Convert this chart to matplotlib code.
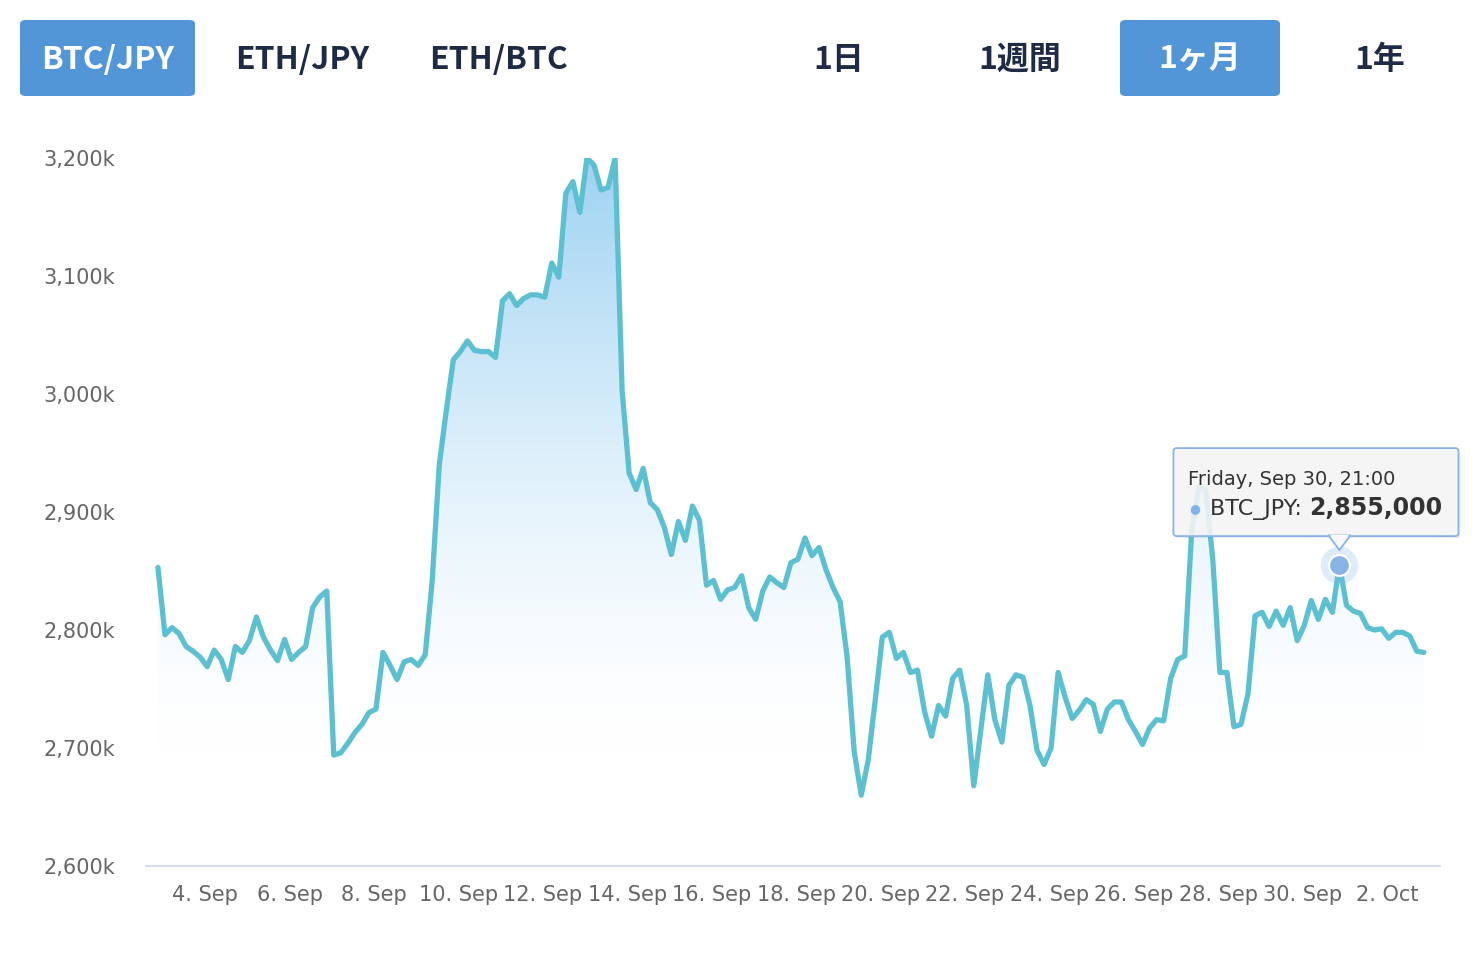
import matplotlib
matplotlib.use("Agg")
import matplotlib.pyplot as plt
import matplotlib.dates as mdates
from matplotlib.patches import FancyBboxPatch, Polygon
from matplotlib.transforms import IdentityTransform
import numpy as np
import pandas as pd

# BTC/JPY, 4-hour steps, in thousands of yen
start_time = "2022-09-02 21:00"
btc_jpy = [
    2853, 2796, 2802, 2797, 2786, 2782, 2777, 2769, 2783, 2775,
    2758, 2786, 2781, 2791, 2811, 2794, 2783, 2774, 2792, 2775,
    2781, 2786, 2819, 2828, 2833, 2694, 2696, 2704, 2713, 2720,
    2730, 2733, 2781, 2770, 2758, 2773, 2775, 2770, 2779, 2842,
    2940, 2986, 3029, 3036, 3045, 3037, 3036, 3036, 3031, 3079,
    3085, 3075, 3081, 3084, 3084, 3082, 3111, 3099, 3170, 3180,
    3154, 3200, 3194, 3173, 3175, 3200, 3003, 2933, 2919, 2937,
    2908, 2902, 2887, 2864, 2892, 2876, 2905, 2893, 2838, 2842,
    2826, 2834, 2836, 2846, 2819, 2809, 2833, 2845, 2840, 2836,
    2857, 2860, 2878, 2863, 2870, 2851, 2836, 2824, 2777, 2697,
    2660, 2690, 2741, 2794, 2798, 2776, 2781, 2764, 2766, 2731,
    2710, 2736, 2727, 2759, 2766, 2736, 2668, 2715, 2762, 2724,
    2705, 2753, 2762, 2760, 2736, 2698, 2686, 2700, 2764, 2743,
    2725, 2732, 2741, 2737, 2714, 2733, 2739, 2739, 2724, 2714,
    2703, 2717, 2724, 2723, 2759, 2775, 2778, 2885, 2921, 2919,
    2859, 2764, 2764, 2718, 2720, 2746, 2812, 2815, 2803, 2816,
    2804, 2819, 2791, 2804, 2825, 2809, 2826, 2815, 2855, 2821,
    2816, 2814, 2802, 2800, 2801, 2793, 2798, 2798, 2795, 2782,
    2781,
]
hover_index = 168
y_ticks = [2600, 2700, 2800, 2900, 3000, 3100, 3200]
pair_buttons = ["BTC/JPY", "ETH/JPY", "ETH/BTC"]
range_buttons = ["1日", "1週間", "1ヶ月", "1年"]

times = pd.date_range(start_time, periods=len(btc_jpy), freq="4h")
tnum = mdates.date2num(times)
vals = np.array(btc_jpy, dtype=float)

W, H = 1480, 956
fig = plt.figure(figsize=(W / 100, H / 100), dpi=100)
ax = fig.add_axes([146 / W, 1 - 866 / H, (1440 - 146) / W, (866 - 158) / H])

step = tnum[1] - tnum[0]
ax.set_xlim(tnum[0] - 1.7 * step, tnum[-1] + 2.3 * step)
ax.set_ylim(y_ticks[0], y_ticks[-1])

# gradient area under the line
line_col = "#5dc0d1"
top_rgb = np.array([158, 210, 242]) / 255
levels = np.linspace(y_ticks[-1], y_ticks[0], 300)
f = np.clip((levels - 2700) / (3200 - 2700), 0, 1) ** 1.5
grad = 1 - f[:, None] * (1 - top_rgb[None, :])
grad = np.repeat(grad[:, None, :], 2, axis=1)
x0, x1 = ax.get_xlim()
img = ax.imshow(grad, extent=[x0, x1, y_ticks[0], y_ticks[-1]], aspect="auto",
                origin="upper", zorder=1)
verts = np.vstack([np.column_stack([tnum, vals]),
                   [[tnum[-1], y_ticks[0]], [tnum[0], y_ticks[0]]]])
clip = Polygon(verts, closed=True, transform=ax.transData, facecolor="none", edgecolor="none")
ax.add_patch(clip)
img.set_clip_path(clip)

ax.plot(tnum, vals, color=line_col, lw=3.8, solid_joinstyle="round",
        solid_capstyle="round", zorder=3)

# hover marker
hx, hy = tnum[hover_index], vals[hover_index]
ax.plot([hx], [hy], "o", ms=27, color="#7cb5ec", alpha=0.25, mec="none", zorder=4)
ax.plot([hx], [hy], "o", ms=15, color="#8ab4e8", mec="white", mew=1.5, zorder=5)

# axes styling
for s in ["top", "right", "left"]:
    ax.spines[s].set_visible(False)
ax.spines["bottom"].set_color("#ccd6eb")
ax.spines["bottom"].set_linewidth(1.2)
ax.set_yticks(y_ticks)
ax.set_yticklabels([f"{v:,}k" for v in y_ticks])
ticks = pd.date_range("2022-09-04", "2022-10-02", freq="2D")
ax.set_xticks(mdates.date2num(ticks))
ax.set_xticklabels([f"{t.day}. {t.strftime('%b')}" for t in ticks])
ax.tick_params(axis="y", length=0, pad=22, labelsize=15, labelcolor="#666666")
ax.tick_params(axis="x", length=0, pad=14, labelsize=15, labelcolor="#666666")

# buttons
jp = ["Noto Sans CJK JP", "DejaVu Sans"]
navy = "#1f2a44"
blue = "#5296d8"
btn_y = 1 - 60 / H
for bx, bw in [(20, 175), (1120, 160)]:
    fig.patches.append(FancyBboxPatch((bx / W, 1 - 96 / H), bw / W, 76 / H,
                                      boxstyle="round,pad=0,rounding_size=0.004",
                                      transform=fig.transFigure, fc=blue, ec="none"))
for lab, cx in zip(pair_buttons, [108, 302, 498]):
    fig.text(cx / W, btn_y, lab, ha="center", va="center", fontsize=23,
             fontweight="bold", family=jp, color="white" if lab == "BTC/JPY" else navy)
for lab, cx in zip(range_buttons, [839, 1020, 1200, 1380]):
    fig.text(cx / W, btn_y, lab, ha="center", va="center", fontsize=23,
             fontweight="bold", family=jp, color="white" if lab == "1ヶ月" else navy)

# tooltip anchored on hovered point
fig.canvas.draw()
px, py = ax.transData.transform((hx, hy))
bx0, bx1 = px - 166, px + 119
by0, by1 = py + 29, py + 117
shadow = FancyBboxPatch((bx0 + 2, by0 - 2), bx1 - bx0, by1 - by0,
                        boxstyle="round,pad=0,rounding_size=3", transform=IdentityTransform(),
                        fc="#000000", alpha=0.07, ec="none", zorder=6)
box = FancyBboxPatch((bx0, by0), bx1 - bx0, by1 - by0,
                     boxstyle="round,pad=0,rounding_size=3", transform=IdentityTransform(),
                     fc=(0.97, 0.97, 0.97, 0.88), ec="#8ab4e8", lw=1.3, zorder=7)
tip = Polygon([[px - 11, by0 + 0.8], [px, py + 15], [px + 11, by0 + 0.8]],
              closed=True, transform=IdentityTransform(), fc="#f7f7f7",
              ec="#8ab4e8", lw=1.3, zorder=7)
fig.artists.extend([shadow, box, tip])
tip_cover = Polygon([[px - 10, by0 + 1.5], [px + 10, by0 + 1.5], [px, by0 - 8]],
                    closed=True, transform=IdentityTransform(), fc="#f7f7f7",
                    ec="none", zorder=8)
fig.artists.append(tip_cover)
fig.text((bx0 + 15) / W, (by1 - 37) / H, "Friday, " + times[hover_index].strftime("%b %d, %H:%M"),
         fontsize=14, color="#333333", va="baseline", zorder=9)
fig.text((bx0 + 16) / W, (by0 + 24) / H, "●", fontsize=9, color="#7cb5ec",
         va="baseline", zorder=9)
t1 = fig.text((bx0 + 37) / W, (by0 + 21) / H, "BTC_JPY: ", fontsize=16,
              color="#333333", va="baseline", zorder=9)
fig.canvas.draw()
bb = t1.get_window_extent()
fig.text(bb.x1 / W, (by0 + 21) / H, f"{int(btc_jpy[hover_index] * 1000):,}",
         fontsize=17, fontweight="bold", color="#333333", va="baseline", zorder=9)

fig.savefig("out.png", dpi=100)
